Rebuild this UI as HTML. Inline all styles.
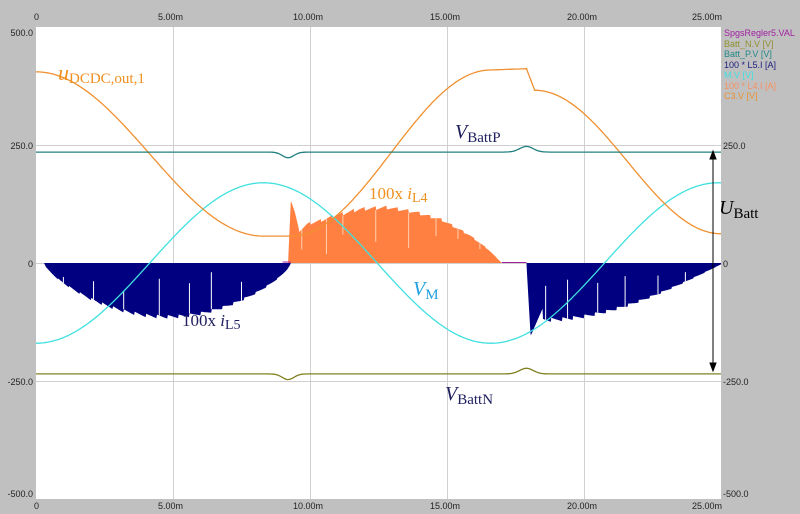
<!DOCTYPE html>
<html><head><meta charset="utf-8"><style>
body{margin:0;background:#c0c0c0;}
svg{display:block;font-family:"Liberation Sans",sans-serif;}
.ax{font-size:9px;fill:#222;}
.lg{font-size:9px;}
.lab{font-family:"Liberation Serif",serif;font-size:17px;}
</style></head><body>
<svg id="s" width="800" height="514" viewBox="0 0 800 514">
<rect x="0" y="0" width="800" height="514" fill="#c0c0c0"/>
<rect x="36" y="27" width="685" height="472" fill="#fff"/>
<g stroke="#d0d0d0" stroke-width="1">
<line x1="173.5" y1="27" x2="173.5" y2="499"/><line x1="310.5" y1="27" x2="310.5" y2="499"/>
<line x1="447.5" y1="27" x2="447.5" y2="499"/><line x1="584.5" y1="27" x2="584.5" y2="499"/>
<line x1="36" y1="145.5" x2="721" y2="145.5"/><line x1="36" y1="381.5" x2="721" y2="381.5"/>
<line x1="36" y1="263.5" x2="721" y2="263.5"/>
</g>
<g id="plot"></g>
<g class="ax">
<text x="34" y="20">0</text><text x="158" y="20">5.00m</text><text x="293" y="20">10.00m</text><text x="430" y="20">15.00m</text><text x="567" y="20">20.00m</text><text x="692" y="20">25.00m</text>
<text x="34" y="509">0</text><text x="158" y="509">5.00m</text><text x="293" y="509">10.00m</text><text x="430" y="509">15.00m</text><text x="567" y="509">20.00m</text><text x="692" y="509">25.00m</text>
<text x="33" y="36" text-anchor="end">500.0</text><text x="33" y="149" text-anchor="end">250.0</text><text x="33" y="267" text-anchor="end">0</text><text x="33" y="385" text-anchor="end">-250.0</text><text x="33" y="497" text-anchor="end">-500.0</text>
<text x="723" y="149">250.0</text><text x="723" y="267">0</text><text x="723" y="385">-250.0</text><text x="723" y="497">-500.0</text>
</g>
<g class="lg">
<text x="724" y="36" fill="#a020a0">SpgsRegler5.VAL</text>
<text x="724" y="47" fill="#909030">Batt_N.V [V]</text>
<text x="724" y="57" fill="#208888">Batt_P.V [V]</text>
<text x="724" y="68" fill="#202080">100 * L5.I [A]</text>
<text x="724" y="78" fill="#40e0e0">M.V [V]</text>
<text x="724" y="89" fill="#f89060">100 * L4.I [A]</text>
<text x="724" y="99" fill="#e89030">C3.V [V]</text>
</g>
<g class="lab">
<text x="58" y="80" fill="#f09020"><tspan font-style="italic" font-size="22">u</tspan><tspan font-size="15" dy="3">DCDC,out,1</tspan></text>
<text x="455" y="138" fill="#202060"><tspan font-style="italic" font-size="20">V</tspan><tspan font-size="15" dy="4">BattP</tspan></text>
<text x="369" y="199" fill="#f09020">100x <tspan font-style="italic">i</tspan><tspan font-size="14" dy="3">L4</tspan></text>
<text x="719" y="214" fill="#000"><tspan font-style="italic" font-size="20">U</tspan><tspan font-size="15" dy="4">Batt</tspan></text>
<text x="413" y="295" fill="#20a0e0"><tspan font-style="italic" font-size="20">V</tspan><tspan font-size="15" dy="4">M</tspan></text>
<text x="182" y="326" fill="#202060">100x <tspan font-style="italic">i</tspan><tspan font-size="14" dy="3">L5</tspan></text>
<text x="445" y="400" fill="#202060"><tspan font-style="italic" font-size="20">V</tspan><tspan font-size="15" dy="4">BattN</tspan></text>
</g>
<g stroke="#000" stroke-width="1" fill="#000">
<line x1="713" y1="156" x2="713" y2="366"/>
<polygon points="713,151 710,159 716,159"/><polygon points="713,371 710,363 716,363"/>
</g>
</svg>
<script>
var X=function(t){return 36+t*27.4;}, Y=function(v){return 263-v*0.472;};
function interp(pts,t){for(var i=1;i<pts.length;i++){if(t<=pts[i][0]){var a=pts[i-1],b=pts[i];return a[1]+(b[1]-a[1])*(t-a[0])/(b[0]-a[0]);}}return pts[pts.length-1][1];}
function path(f,t0,t1,n){var d='';for(var i=0;i<=n;i++){var t=t0+(t1-t0)*i/n;d+=(i?'L':'M')+X(t).toFixed(1)+','+Y(f(t)).toFixed(1);}return d;}
var P=2*Math.PI/16.6, g=document.getElementById('plot'), h='';
function C3(t){if(t<8.3)return 231+174*Math.cos(P*t);if(t<9.3)return 57;if(t<16.6)return 233-176*Math.cos(Math.PI*(t-9.3)/7.3);if(t<17.9)return 409+2*(t-16.6);if(t<18.2)return 412-(412-366)*(t-17.9)/0.3;return 214+152*Math.cos(Math.PI*(t-18.2)/6.8);}
function bump(t){return -12*Math.exp(-Math.pow((t-9.2)/0.3,2))+12*Math.exp(-Math.pow((t-17.9)/0.35,2));}
function BP(t){return 235+bump(t);}
function BN(t){return -235+bump(t);}
function M(t){return -170*Math.cos(P*t);}
var L4p=[[9.2,0],[9.3,140],[9.45,110],[9.6,70],[9.9,85],[10.5,95],[11,105],[11.8,118],[12.8,122],[13.8,112],[14.8,95],[15.8,62],[16.5,30],[17.0,0]];
function L4(t){var v=interp(L4p,t);var s=(t*2.5)%1;return v*(0.93+0.07*s);}
function L5(t){if(t<9.3){if(t<0.3)return 0;return -118*Math.pow(Math.sin(Math.PI*(t-0.3)/9.0),0.7)*(0.93+0.07*((t*2.5)%1));}
 if(t<17.9)return 0; if(t<18.05)return -155*(t-17.9)/0.15; if(t<18.5)return -155+60*(t-18.05)/0.45;
 return -125*Math.cos(Math.PI/2*(t-18.5)/6.6)*(0.93+0.07*((t*2.5)%1));}
function fill(f,t0,t1,col){var d=path(f,t0,t1,400);d+='L'+X(t1).toFixed(1)+','+Y(0)+'L'+X(t0).toFixed(1)+','+Y(0)+'Z';return '<path d="'+d+'" fill="'+col+'"/>';}
h+=fill(L5,0,9.3,'#000080');h+=fill(L5,17.9,25,'#000080');h+=fill(L4,9.2,17.0,'#ff8040');
var wl=[[1,0.3],[2.1,0.5],[3.2,0.4],[4.5,0.7],[5.6,0.6],[6.4,0.8],[7.5,0.5],[18.6,0.6],[19.4,0.7],[20.5,0.6],[21.5,0.7],[22.7,0.6],[23.7,0.5]];
wl.forEach(function(w){var v=L5(w[0]);h+='<line x1="'+X(w[0])+'" x2="'+X(w[0])+'" y1="'+Y(v*(1-w[1]))+'" y2="'+Y(v)+'" stroke="#fff" stroke-width="1"/>';});
[[9.7,0.6],[10.6,0.8],[11.2,0.4],[12.4,0.6],[13.6,0.7],[14.6,0.4],[15.4,0.3],[16.2,0.3]].forEach(function(w){var v=L4(w[0]);h+='<line x1="'+X(w[0])+'" x2="'+X(w[0])+'" y1="'+Y(v*(1-w[1]))+'" y2="'+Y(v)+'" stroke="#ffd0b0" stroke-width="1"/>';});
h+='<line x1="'+X(9.0)+'" x2="'+X(9.3)+'" y1="'+Y(2)+'" y2="'+Y(2)+'" stroke="#a020a0"/>';
h+='<line x1="'+X(17.0)+'" x2="'+X(17.9)+'" y1="'+Y(1)+'" y2="'+Y(1)+'" stroke="#a020a0"/>';
h+='<path d="'+path(M,0,25,400)+'" fill="none" stroke="#40e0e0" stroke-width="1.3"/>';
h+='<path d="'+path(C3,0,25,500)+'" fill="none" stroke="#f09030" stroke-width="1.3"/>';
h+='<path d="'+path(BP,0,25,400)+'" fill="none" stroke="#208080" stroke-width="1.3"/>';
h+='<path d="'+path(BN,0,25,400)+'" fill="none" stroke="#808020" stroke-width="1.3"/>';
g.innerHTML=h;
</script>
</body></html>
